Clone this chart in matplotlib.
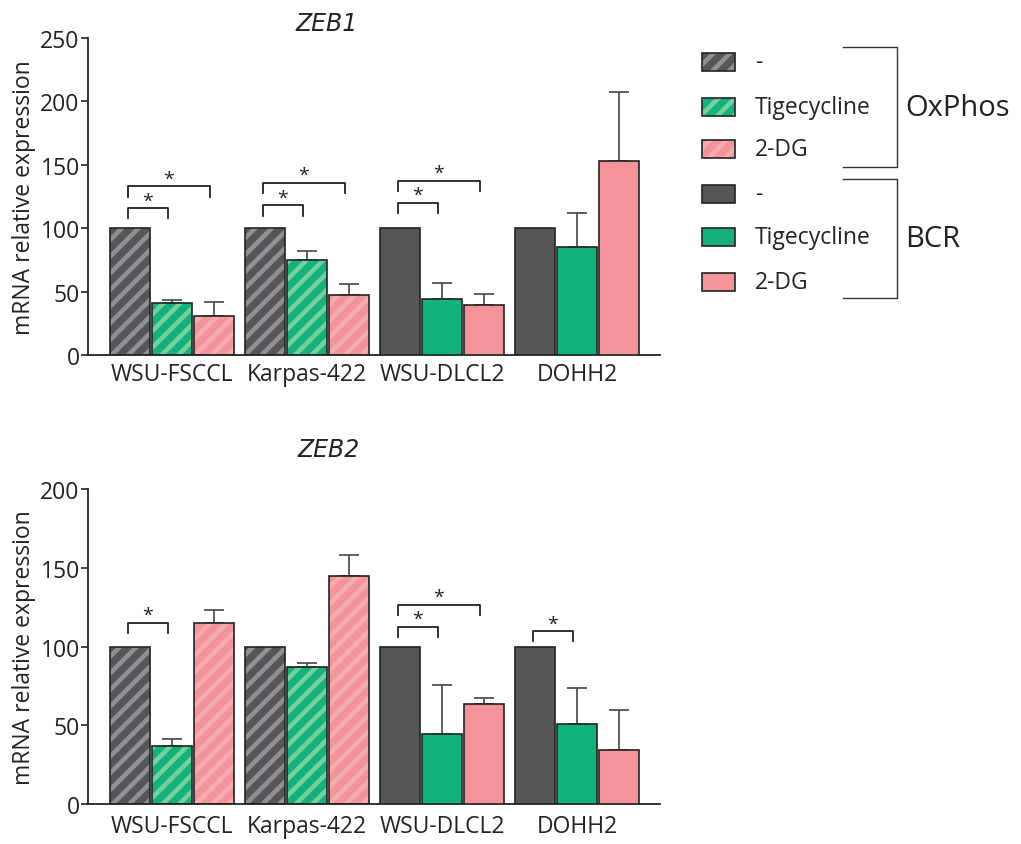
import numpy as np
import matplotlib.pyplot as plt
from matplotlib.patches import Rectangle

plt.rcParams['font.family'] = ['Open Sans', 'DejaVu Sans']
plt.rcParams['hatch.linewidth'] = 3.3

cell_lines = ["WSU-FSCCL", "Karpas-422", "WSU-DLCL2", "DOHH2"]
hatched = [True, True, False, False]          # OxPhos lines are striped
treatments = ["-", "Tigecycline", "2-DG"]

# ZEB1
zeb1_ctrl = [100, 100, 100, 100]
zeb1_tige = [41, 74.7, 44.2, 84.9]
zeb1_tige_err = [2, 7.3, 12.3, 26.8]
zeb1_2dg = [30.8, 47.6, 39.4, 152.7]
zeb1_2dg_err = [10.7, 8.1, 8.4, 55]
# (cell line, treatment compared with control, bracket height)
zeb1_sig = [(0, 1, 115.7), (0, 2, 133), (1, 1, 118), (1, 2, 136),
            (2, 1, 120), (2, 2, 137.5)]

# ZEB2
zeb2_ctrl = [100, 100, 100, 100]
zeb2_tige = [36.6, 87, 44.4, 50.6]
zeb2_tige_err = [4.7, 2.5, 31.2, 22.8]
zeb2_2dg = [115.1, 144.6, 63.5, 34.5]
zeb2_2dg_err = [8.3, 13.3, 3.8, 25]
zeb2_sig = [(0, 1, 115.1), (2, 1, 112.4), (2, 2, 126.6), (3, 1, 109.6)]

face = ["#555658", "#13b27b", "#f3949a"]
stripe = ["#8e9094", "#74d09f", "#f7abaf"]
edge = "#222222"
W = 0.30
OFF = 0.31
FS = 16.5


def draw_panel(ax, ctrl, tige, tige_err, dg, dg_err, sig, ymax, xpad):
    x = np.arange(len(cell_lines))
    means = [ctrl, tige, dg]
    errs = [None, tige_err, dg_err]
    for t in range(3):
        xs = x + (t - 1) * OFF
        for i in range(len(cell_lines)):
            if hatched[i]:
                ax.bar(xs[i], means[t][i], W, color=face[t], edgecolor=stripe[t],
                       hatch='//', linewidth=0, zorder=2)
                ax.bar(xs[i], means[t][i], W, fill=False, edgecolor=edge,
                       linewidth=1.2, zorder=3)
            else:
                ax.bar(xs[i], means[t][i], W, color=face[t], edgecolor=edge,
                       linewidth=1.2, zorder=3)
        if errs[t] is not None:
            ax.errorbar(xs, means[t], yerr=[np.zeros(4), errs[t]], fmt='none',
                        ecolor='#444444', elinewidth=1.2, capsize=7, capthick=1.2,
                        zorder=1)
    leg = ymax * 0.032
    for i, t, h in sig:
        x0 = i - OFF - 0.015
        x1 = i + (t - 1) * OFF - 0.03
        ax.plot([x0, x0, x1, x1], [h - leg, h, h, h - leg], color='#222222',
                lw=1.3, zorder=4)
        ax.text((x0 + x1) / 2, h - ymax * 0.004, "*", ha='center', va='bottom',
                fontsize=14, color='#222222')
    ax.set_xlim(-0.622, 3.615)
    ax.set_ylim(0, ymax)
    ax.set_yticks(np.arange(0, ymax + 1, 50))
    ax.set_xticks(x)
    ax.set_xticklabels(cell_lines)
    ax.tick_params(axis='x', length=0, pad=xpad, labelsize=FS, colors='#222222')
    ax.tick_params(axis='y', length=5, width=1.2, pad=1, labelsize=FS,
                   colors='#222222')
    for s in ['top', 'right']:
        ax.spines[s].set_visible(False)
    for s in ['left', 'bottom']:
        ax.spines[s].set_linewidth(1.3)
        ax.spines[s].set_color('#222222')
    ax.set_ylabel("mRNA relative expression", fontsize=FS, color='#222222',
                  labelpad=3)


fig = plt.figure(figsize=(10.21, 8.45), dpi=100)
ax1 = fig.add_axes([0.0862, 0.5787, 0.5602, 0.3751])
ax2 = fig.add_axes([0.0862, 0.0473, 0.5602, 0.3728])
draw_panel(ax1, zeb1_ctrl, zeb1_tige, zeb1_tige_err, zeb1_2dg, zeb1_2dg_err,
           zeb1_sig, 250, 5)
draw_panel(ax2, zeb2_ctrl, zeb2_tige, zeb2_tige_err, zeb2_2dg, zeb2_2dg_err,
           zeb2_sig, 200, 7)
fig.text(327 / 1021, 1 - 24 / 845, "ZEB1", style='italic', fontsize=17,
         ha='center', va='center', color='#222222', family=['DejaVu Sans'])
fig.text(329 / 1021, 1 - 450 / 845, "ZEB2", style='italic', fontsize=17,
         ha='center', va='center', color='#222222', family=['DejaVu Sans'])

# legend drawn in pixel space
lg = fig.add_axes([0, 0, 1, 1])
lg.set_xlim(0, 1021)
lg.set_ylim(845, 0)
lg.axis('off')
rows = [63, 108, 150, 195, 238, 283]
for k, yc in enumerate(rows):
    t = k % 3
    if k < 3:
        lg.add_patch(Rectangle((702, yc - 9), 33, 18, facecolor=face[t],
                               edgecolor=stripe[t], hatch='//', linewidth=0))
        lg.add_patch(Rectangle((702, yc - 9), 33, 18, fill=False,
                               edgecolor=edge, linewidth=1.2))
    else:
        lg.add_patch(Rectangle((702, yc - 9), 33, 18, facecolor=face[t],
                               edgecolor=edge, linewidth=1.2))
    lg.text(755, yc, treatments[t], fontsize=FS, va='center', ha='left',
            color='#222222')
for top, bot, name in [(48, 168, "OxPhos"), (180, 299, "BCR")]:
    lg.plot([843, 897, 897, 843], [top, top, bot, bot], color='#333333', lw=1)
    lg.text(905, (top + bot) / 2, name, fontsize=21, va='center', ha='left',
            color='#222222')

fig.savefig("out.png", dpi=100)
